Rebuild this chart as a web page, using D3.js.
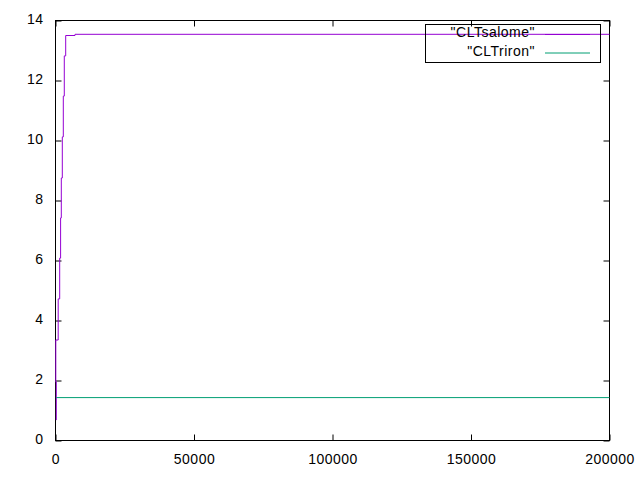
<!DOCTYPE html>
<html>
<head>
<meta charset="utf-8">
<script src="https://cdn.jsdelivr.net/npm/d3@7"></script>
<style>
  body { margin: 0; background: #fff; }
  svg text { font-family: "Liberation Sans", Arial, sans-serif; font-size: 14px; letter-spacing: 0.5px; fill: #000; }
</style>
</head>
<body>
<div id="chart"></div>
<script>
// data
const salomeX = [290, 110, 975, 1515, 1840, 2095, 2455, 2815, 3175, 3680, 7040, 200000];
const salomeY = [0.68, 1.95, 3.35, 4.72, 6.08, 7.42, 8.75, 10.12, 11.48, 12.82, 13.50, 13.54];
const trironX = [290, 200000];
const trironY = [1.43, 1.43];

const xTicks = [0, 50000, 100000, 150000, 200000];
const yTicks = [0, 2, 4, 6, 8, 10, 12, 14];
const seriesNames = ['"CLTsalome"', '"CLTriron"'];
const seriesColors = ["#9400d3", "#009e73"];

const width = 640, height = 480;
const margin = { top: 20.5, right: 30.5, bottom: 39.5, left: 55.5 };
const w = width - margin.left - margin.right;
const h = height - margin.top - margin.bottom;

const svg = d3.select("#chart").append("svg")
    .attr("width", width)
    .attr("height", height);

const g = svg.append("g")
    .attr("transform", "translate(" + margin.left + "," + margin.top + ")");

const x = d3.scaleLinear().domain([0, 200000]).range([0, w]);
const y = d3.scaleLinear().domain([0, 14]).range([h, 0]);

// axes with inward ticks, mirrored on top and right
g.append("g").attr("transform", "translate(0," + h + ")")
    .call(d3.axisBottom(x).tickValues(xTicks).tickSize(-6).tickPadding(13.5).tickFormat(d3.format("d")));
g.append("g").attr("class", "y-left")
    .call(d3.axisLeft(y).tickValues(yTicks).tickSize(-6).tickPadding(12).tickFormat(d3.format("d")));
g.append("g")
    .call(d3.axisTop(x).tickValues(xTicks).tickSize(-6).tickFormat(""));
g.append("g").attr("transform", "translate(" + w + ",0)")
    .call(d3.axisRight(y).tickValues(yTicks).tickSize(-6).tickFormat(""));

g.selectAll(".domain").remove();
g.selectAll(".tick line").attr("stroke", "#000");
g.selectAll(".tick text").attr("fill", "#000");
g.selectAll("g").attr("font-size", null).attr("font-family", null);
g.select(".y-left").selectAll(".tick text").attr("dy", "0.23em");

// border
g.append("rect")
    .attr("x", 0).attr("y", 0)
    .attr("width", w).attr("height", h)
    .attr("fill", "none").attr("stroke", "#000");

// legend
const legend = svg.append("g");
legend.append("rect")
    .attr("x", 425.5).attr("y", 24.5)
    .attr("width", 175).attr("height", 38)
    .attr("fill", "none").attr("stroke", "#000");

seriesNames.forEach(function(name, i) {
    legend.append("text")
        .attr("x", 535)
        .attr("y", 37 + i * 18.5)
        .attr("text-anchor", "end")
        .text(name);
    legend.append("line")
        .attr("x1", 545).attr("x2", 590)
        .attr("y1", 34.5 + i * 18.5).attr("y2", 34.5 + i * 18.5)
        .attr("stroke", seriesColors[i]);
});

// lines
const salome = salomeX.map((d, i) => [d, salomeY[i]]);
const triron = trironX.map((d, i) => [d, trironY[i]]);

g.append("path")
    .datum(salome)
    .attr("fill", "none")
    .attr("stroke", seriesColors[0])
    .attr("stroke-width", 1)
    .attr("d", d3.line().x(d => x(d[0])).y(d => y(d[1])).curve(d3.curveStepBefore));

g.append("path")
    .datum(triron)
    .attr("fill", "none")
    .attr("stroke", seriesColors[1])
    .attr("stroke-width", 1)
    .attr("d", d3.line().x(d => x(d[0])).y(d => y(d[1])));
</script>
</body>
</html>
